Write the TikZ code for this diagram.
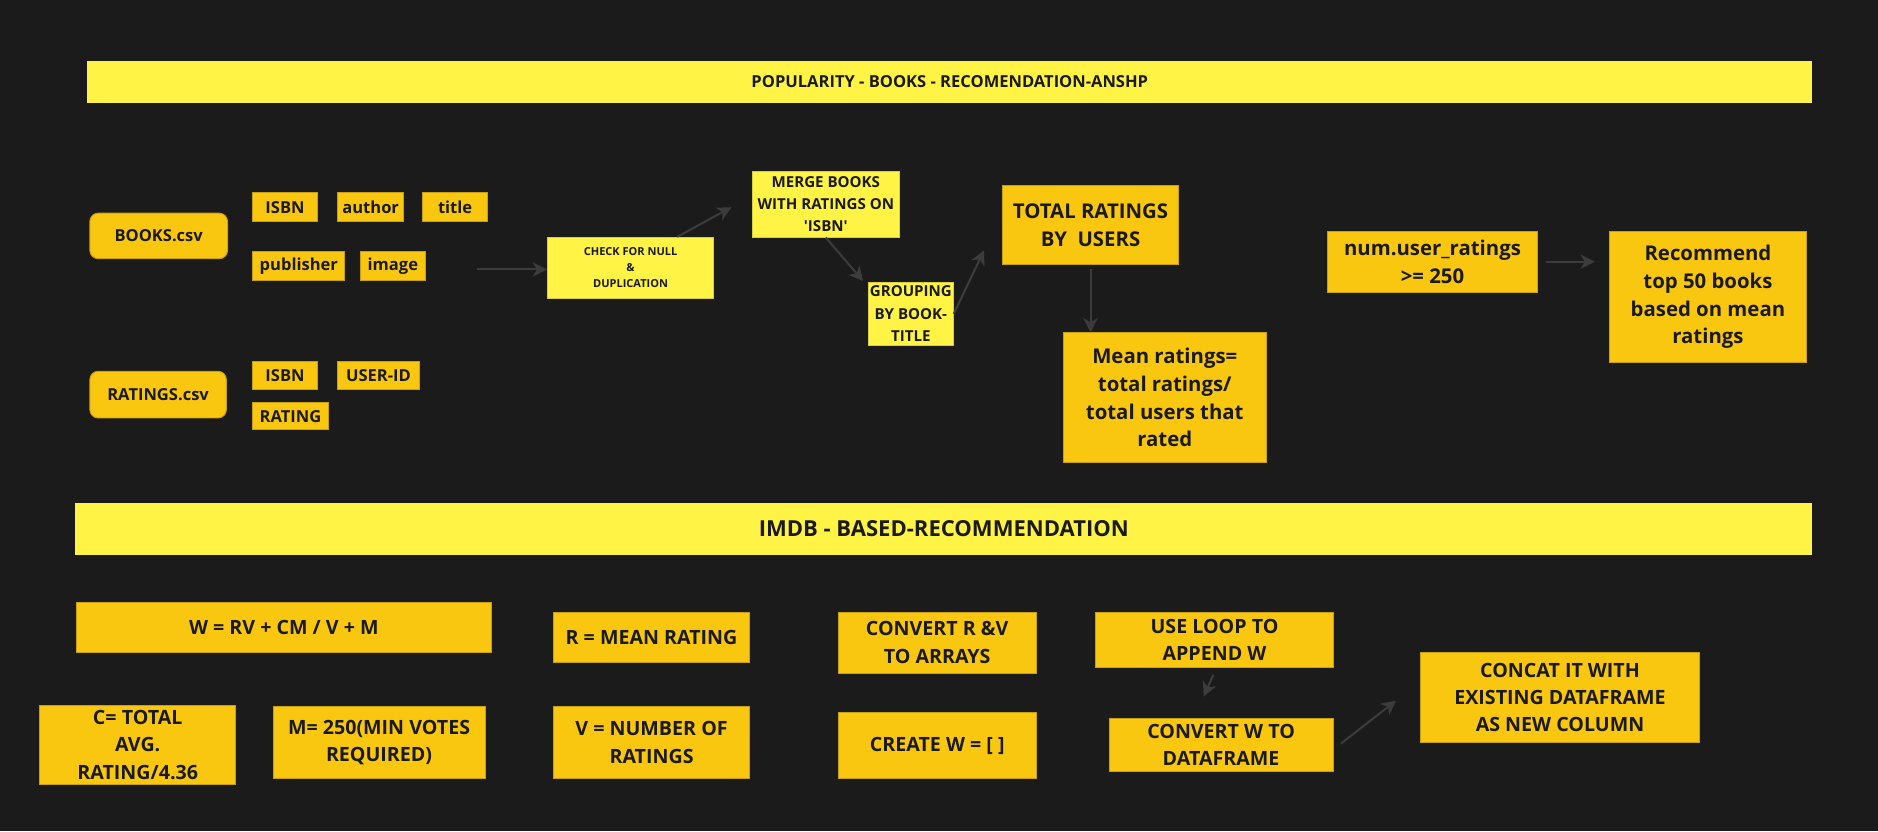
\documentclass[tikz,border=0pt]{standalone}
\usepackage{fontspec}
\setmainfont{Open Sans}
\usetikzlibrary{arrows.meta,calc}
\definecolor{bg}{HTML}{1B1B1B}
\definecolor{bright}{HTML}{FFF445}
\definecolor{gold}{HTML}{FAC710}
\definecolor{ink}{HTML}{1A1A1A}
\definecolor{arrowc}{HTML}{3C3C3C}
\newcommand{\fs}[2]{\fontsize{#1}{#2}\selectfont}
\newcommand{\sq}{\XeTeXglyph\XeTeXcharglyph"27\relax}
\tikzset{
  base/.style={inner sep=0pt, align=center, text=ink},
  goldbox/.style={base, fill=gold, draw=gold!80!black, line width=0.4pt},
  brightbox/.style={base, fill=bright, draw=bright!85!black, line width=0.3pt},
  titlebar/.style={base, fill=bright},
  filebox/.style={goldbox, rounded corners=3.5pt},
  arr/.style={draw=arrowc, line width=0.85pt, -{Stealth[length=6pt,width=6pt,inset=1.8pt]}},
  lbl/.style={font=\bfseries\fs{6.9}{9}},
  small/.style={font=\bfseries\fs{4.6}{6.7}},
  mid/.style={font=\bfseries\fs{6.3}{9.3}},
  big/.style={font=\bfseries\fs{8.5}{11.6}},
  bot/.style={font=\bfseries\fs{8.2}{11.4}},
  head/.style={font=\bfseries\fs{9.2}{11}},
}
\newcommand{\bx}[7]{%
  \pgfmathsetmacro\bw{(#5-#3)*0.5}%
  \pgfmathsetmacro\bh{(#6-#4)*0.5}%
  \node[#1, minimum width=\bw pt, minimum height=\bh pt] (#2) at ({(#3+#5)/2},{(#4+#6)/2}) {#7};}
\begin{document}
\begin{tikzpicture}[x=0.5pt,y=-0.5pt]
\fill[bg] (0,0) rectangle (1568,694);
\useasboundingbox (0,0) rectangle (1568,694);
% top section
\bx{titlebar,lbl}{title1}{73}{51}{1513}{86}{POPULARITY - BOOKS - RECOMENDATION-ANSHP}
\bx{filebox,lbl}{books}{75}{178}{190}{216}{BOOKS.csv}
\bx{goldbox,lbl}{isbna}{211}{161}{265}{185}{ISBN}
\bx{goldbox,lbl}{author}{282}{161}{337}{185}{author}
\bx{goldbox,lbl}{titlef}{353}{161}{407}{185}{title}
\bx{goldbox,lbl}{publisher}{211}{210}{288}{234}{publisher}
\bx{goldbox,lbl}{image}{301}{210}{355}{234}{image}
\bx{filebox,lbl}{ratings}{75}{310}{189}{349}{RATINGS.csv}
\bx{goldbox,lbl}{isbnb}{211}{302}{265}{325}{ISBN}
\bx{goldbox,lbl}{userid}{282}{302}{350}{325}{USER-ID}
\bx{goldbox,lbl}{rating}{211}{336}{274}{359}{RATING}
\bx{brightbox,small}{check}{457}{198}{596}{249}{CHECK FOR NULL\\\&\\DUPLICATION}
\bx{brightbox,mid}{merge}{628}{143}{751}{198}{MERGE BOOKS\\WITH RATINGS ON\\\sq ISBN\sq}
\bx{brightbox,mid}{group}{725}{236}{796}{288}{GROUPING\\BY BOOK-\\TITLE}
\bx{goldbox,big}{total}{837}{155}{984}{221}{TOTAL RATINGS\\BY~~USERS}
\bx{goldbox,big}{mean}{888}{278}{1057}{386}{Mean ratings=\\total ratings/\\total users that\\rated}
\bx{goldbox,big}{num}{1108}{193}{1284}{244}{num.user\_ratings\\>= 250}
\bx{goldbox,big}{rec}{1344}{193}{1508}{303}{Recommend\\top 50 books\\based on mean\\ratings}
% bottom section
\bx{titlebar,head}{title2}{63}{420}{1513}{463}{IMDB - BASED-RECOMMENDATION}
\bx{goldbox,bot}{wbox}{64}{503}{410}{545}{W = RV + CM / V + M}
\bx{goldbox,bot}{rbox}{462}{511}{626}{553}{R = MEAN RATING}
\bx{goldbox,bot}{cbox}{33}{589}{197}{655}{C= TOTAL\\AVG.\\RATING/4.36}
\bx{goldbox,bot}{mbox}{228}{590}{405}{650}{M= 250(MIN VOTES\\REQUIRED)}
\bx{goldbox,bot}{vbox}{462}{590}{626}{650}{V = NUMBER OF\\RATINGS}
\bx{goldbox,bot}{convr}{700}{511}{865}{562}{CONVERT R \&V\\TO ARRAYS}
\bx{goldbox,bot}{create}{700}{595}{865}{650}{CREATE W = [ ]}
\bx{goldbox,bot}{loop}{915}{511}{1113}{557}{USE LOOP TO\\APPEND W}
\bx{goldbox,bot}{convw}{926}{600}{1113}{644}{CONVERT W TO\\DATAFRAME}
\bx{goldbox,bot}{concat}{1186}{545}{1419}{620}{CONCAT IT WITH\\EXISTING DATAFRAME\\AS NEW COLUMN}
% connectors
\draw[arr] ($(image.east)+(43,3)$) -- (check.west |- {$(image.east)+(0,3)$});
\draw[arr] ($(check.north)+(39,0)$) -- ($(merge.west)+(-17,2.5)$);
\draw[arr] (merge.south) -- ($(group.north west)+(-4,-1)$);
\draw[arr] (group.east) -- ($(total.west)+(-15,21)$);
\draw[arr] ($(total.south)+(0,3)$) -- (total.south |- mean.north);
\draw[arr] ($(num.east)+(6,0)$) -- ($(num.east -| rec.west)+(-12,0)$);
\draw[arr] ($(loop.south)+(-1,6)$) -- ($(convw.north)+(-14.5,-18)$);
\draw[arr] ($(convw.east)+(6,-1)$) -- ($(concat.west)+(-20,2.5)$);
\end{tikzpicture}
\end{document}
